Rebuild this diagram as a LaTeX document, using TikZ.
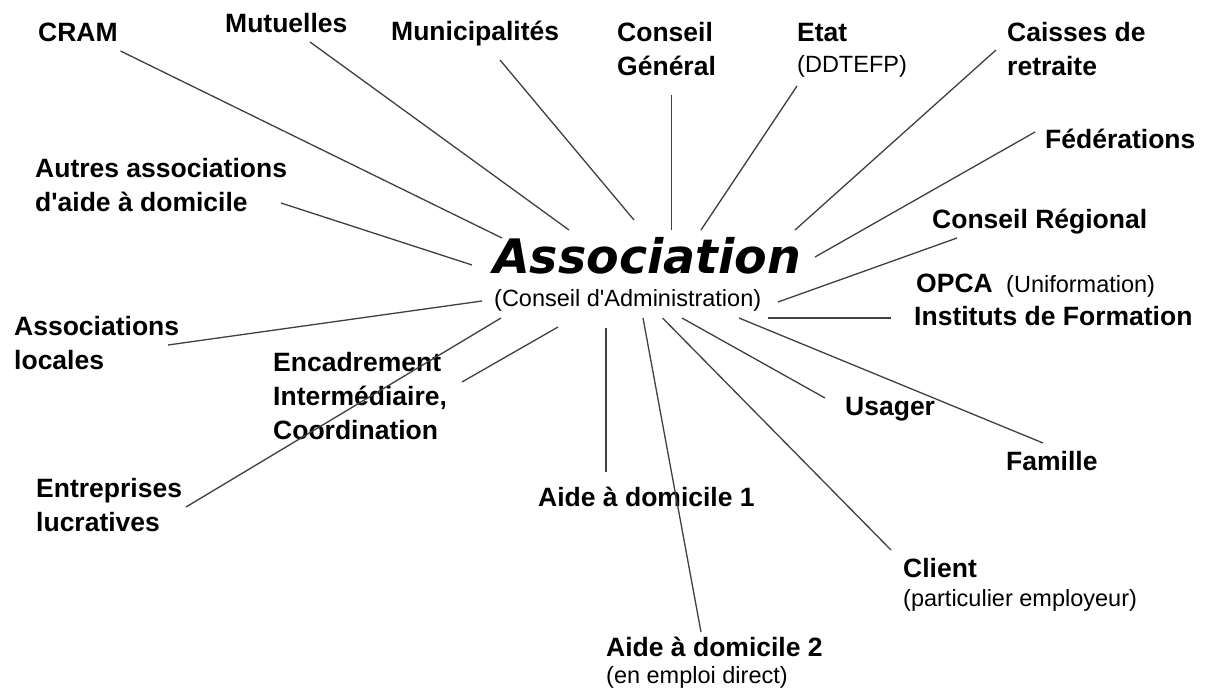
\documentclass[tikz,border=0pt]{standalone}
\usepackage{fontspec}
\setmainfont{Liberation Sans}[Ligatures=TeXOff]
\newfontfamily\assocfont{DejaVu Sans}
% stacked lines whose baseline is the first line's baseline
\newcommand\lblstack[1]{\vtop{\baselineskip=34pt\lineskip=0pt\lineskiplimit=-100pt #1}}
\begin{document}
\begin{tikzpicture}[x=1pt,y=-1pt,
  lbl/.style={anchor=base west, inner sep=0pt, font=\fontsize{26.5}{34}\selectfont\bfseries},
  note/.style={anchor=base west, inner sep=0pt, font=\fontsize{23.5}{28}\selectfont},
  hub/.style={anchor=base west, inner sep=0pt, font=\assocfont\fontsize{47.5}{50}\selectfont\bfseries\itshape},
  link/.style={draw=black!75, line width=1.3pt}]
\useasboundingbox[fill=white] (0,0) rectangle (1212,690);

% central node
\node[hub]  (assoc) at (493,273) {Association};
\node[note] (ca)    at (494,306) {(Conseil d'Administration)};

% partners
\node[lbl] (cram)  at (38,42)   {CRAM};
\node[lbl] (mut)   at (225,33)  {Mutuelles};
\node[lbl] (muni)  at (391,41)  {Municipalités};
\node[lbl] (cg)    at (617,42)  {\lblstack{\hbox{Conseil}\hbox{Général}}};
\node[lbl] (etat)  at (797,42)  {Etat};
\node[note] (ddt)  at (797,73)  {(DDTEFP)};
\node[lbl] (caiss) at (1007,42) {\lblstack{\hbox{Caisses de}\hbox{retraite}}};
\node[lbl] (fed)   at (1045,148) {Fédérations};
\node[lbl] (cr)    at (932,228) {Conseil Régional};
\node[lbl] (opca)  at (916,292) {OPCA};
\node[note] (unif) at (1006,292) {(Uniformation)};
\node[lbl] (inst)  at (914,325) {Instituts de Formation};
\node[lbl] (usa)   at (845,415) {Usager};
\node[lbl] (fam)   at (1006,470) {Famille};
\node[lbl] (cli)   at (903,577) {Client};
\node[note] (pe)   at (903,606) {(particulier employeur)};
\node[lbl] (ad2)   at (606,656) {Aide à domicile 2};
\node[note] (ed)   at (606,683) {(en emploi direct)};
\node[lbl] (ad1)   at (538,506) {Aide à domicile 1};
\node[lbl] (enc)   at (273,371) {\lblstack{\hbox{Encadrement}\hbox{Intermédiaire,}\hbox{Coordination}}};
\node[lbl] (ent)   at (36,497)  {\lblstack{\hbox{Entreprises}\hbox{lucratives}}};
\node[lbl] (loc)   at (14,335)  {\lblstack{\hbox{Associations}\hbox{locales}}};
\node[lbl] (aut)   at (35,177)  {\lblstack{\hbox{Autres associations}\hbox{d'aide à domicile}}};

% connector ends near the labels
\coordinate (t-cram)  at (120.5,51);
\coordinate (t-mut)   at (310,42);
\coordinate (t-muni)  at (500,60);
\coordinate (t-cg)    at (671.5,95);
\coordinate (t-etat)  at (797,86);
\coordinate (t-caiss) at (996,50);
\coordinate (t-fed)   at (1035,132);
\coordinate (t-cr)    at (957,238);
\coordinate (t-inst)  at (891,318);
\coordinate (t-fam)   at (1043,443);
\coordinate (t-usa)   at (825,398);
\coordinate (t-cli)   at (891,550);
\coordinate (t-ad2)   at (701,632);
\coordinate (t-ad1)   at (606,472);
\coordinate (t-enc)   at (462,382);
\coordinate (t-ent)   at (186,507);
\coordinate (t-loc)   at (168,345);
\coordinate (t-aut)   at (281,203);

% connector ends around the association
\coordinate (h-cram)  at (502,238);
\coordinate (h-mut)   at (569,230);
\coordinate (h-muni)  at (634,220);
\coordinate (h-cg)    at (671.5,230);
\coordinate (h-etat)  at (701,230);
\coordinate (h-caiss) at (795,230);
\coordinate (h-fed)   at (815,257);
\coordinate (h-cr)    at (778,302);
\coordinate (h-inst)  at (768,318);
\coordinate (h-fam)   at (739,318);
\coordinate (h-usa)   at (682,318);
\coordinate (h-cli)   at (662.5,318);
\coordinate (h-ad2)   at (643,318);
\coordinate (h-ad1)   at (606,328);
\coordinate (h-enc)   at (558,327);
\coordinate (h-ent)   at (501,318);
\coordinate (h-loc)   at (482,301);
\coordinate (h-aut)   at (472,265);

\foreach \n in {cram,mut,muni,cg,etat,caiss,fed,cr,inst,fam,usa,cli,ad2,ad1,enc,ent,loc,aut}
  \draw[link] (t-\n) -- (h-\n);
\end{tikzpicture}
\end{document}
